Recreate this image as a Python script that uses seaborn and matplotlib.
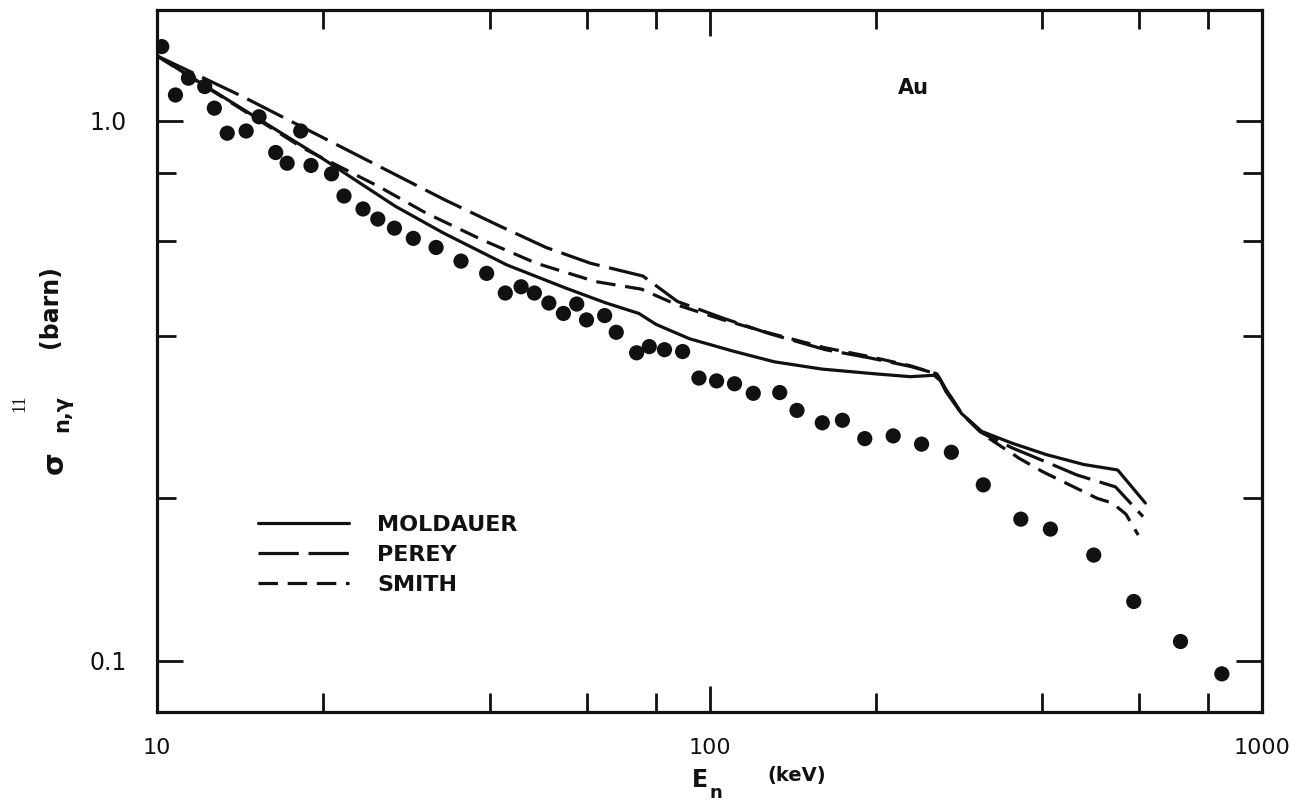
import matplotlib
matplotlib.use("Agg")
import matplotlib.pyplot as plt
import seaborn as sns
from matplotlib.ticker import FixedLocator, FixedFormatter, NullFormatter

# Measured capture cross-section of gold (barn) vs neutron energy (keV)
energy_meas = [10.2, 10.8, 11.4, 12.2, 12.7, 13.4, 14.5, 15.3, 16.4, 17.2,
               18.2, 19.0, 20.7, 21.8, 23.6, 25.1, 26.9, 29.1, 32.0, 35.5,
               39.5, 42.7, 45.6, 48.2, 51.2, 54.4, 57.5, 59.9, 64.6, 67.8,
               73.8, 77.8, 82.9, 89.4, 95.7, 103, 111, 120, 134, 144,
               160, 174, 191, 215, 242, 274, 313, 366, 414, 496,
               586, 712, 846]
sigma_meas = [1.373, 1.117, 1.20, 1.158, 1.056, 0.949, 0.958, 1.018, 0.874, 0.835,
              0.958, 0.827, 0.798, 0.726, 0.687, 0.658, 0.633, 0.606, 0.583, 0.550,
              0.522, 0.480, 0.493, 0.480, 0.460, 0.440, 0.458, 0.428, 0.436, 0.406,
              0.372, 0.382, 0.377, 0.374, 0.334, 0.330, 0.326, 0.313, 0.314, 0.291,
              0.276, 0.279, 0.258, 0.261, 0.252, 0.2434, 0.2118, 0.183, 0.1754, 0.157,
              0.1288, 0.1086, 0.0946]

# Calculated curves
moldauer_e = [10, 15, 20, 27, 33, 43, 55, 65, 74.5, 80, 92, 110, 131, 160, 200,
              231, 255, 262, 268, 286, 311, 353, 407, 476, 548, 615]
moldauer_s = [1.32, 1.02, 0.85, 0.695, 0.62, 0.541, 0.49, 0.46, 0.44, 0.42, 0.395,
              0.375, 0.358, 0.347, 0.34, 0.336, 0.338, 0.33, 0.315, 0.287, 0.266,
              0.253, 0.241, 0.231, 0.2257, 0.196]

perey_e = [10, 14.3, 22.4, 33.2, 42.1, 50.6, 60.9, 75.8, 87.5, 106, 128, 162,
           195, 231, 258, 266, 286, 312, 353, 413, 462, 543, 609]
perey_s = [1.32, 1.109, 0.877, 0.714, 0.636, 0.583, 0.545, 0.516, 0.463, 0.431,
           0.404, 0.377, 0.364, 0.351, 0.340, 0.322, 0.287, 0.264, 0.248, 0.232,
           0.221, 0.210, 0.185]

smith_e = [10, 18.4, 25.2, 30.7, 38.8, 48.6, 62.2, 75.3, 87.5, 106, 128, 162,
           195, 231, 258, 266, 286, 312, 364, 401, 503, 536, 567, 597]
smith_s = [1.32, 0.89, 0.756, 0.675, 0.602, 0.545, 0.504, 0.488, 0.456, 0.428,
           0.405, 0.38, 0.366, 0.352, 0.340, 0.322, 0.287, 0.263, 0.237, 0.224,
           0.200, 0.196, 0.187, 0.171]

x_major = [10, 100, 1000]
x_major_labels = ["10", "100", "1000"]
x_minor = [20, 40, 60, 80, 200, 400, 600, 800]
y_major = [0.1, 1.0]
y_major_labels = ["0.1", "1.0"]
y_minor = [0.2, 0.4, 0.6, 0.8]

sns.set_style("ticks")
plt.rcParams["font.family"] = ["DejaVu Sans"]
plt.rcParams["lines.scale_dashes"] = False

W, H = 1302, 800
fig = plt.figure(figsize=(W / 100, H / 100), dpi=100)
ax = fig.add_axes([157 / W, 1 - 712 / H, (1262 - 157) / W, (712 - 10) / H])

ink = "#111111"
sns.lineplot(x=moldauer_e, y=moldauer_s, sort=False, estimator=None, ax=ax,
             color=ink, lw=2.3, label="MOLDAUER")
sns.lineplot(x=perey_e, y=perey_s, sort=False, estimator=None, ax=ax,
             color=ink, lw=2.3, ls=(0, (29, 7)), label="PEREY")
sns.lineplot(x=smith_e, y=smith_s, sort=False, estimator=None, ax=ax,
             color=ink, lw=2.3, ls=(0, (14, 7)), label="SMITH")
sns.scatterplot(x=energy_meas, y=sigma_meas, ax=ax, s=120, color=ink,
                edgecolor="none", zorder=3, legend=False)

ax.set_xscale("log")
ax.set_yscale("log")
ax.set_xlim(10, 1000)
ax.set_ylim(0.0804, 1.605)

ax.xaxis.set_major_locator(FixedLocator(x_major))
ax.xaxis.set_major_formatter(FixedFormatter(x_major_labels))
ax.xaxis.set_minor_locator(FixedLocator(x_minor))
ax.xaxis.set_minor_formatter(NullFormatter())
ax.yaxis.set_major_locator(FixedLocator(y_major))
ax.yaxis.set_major_formatter(FixedFormatter(y_major_labels))
ax.yaxis.set_minor_locator(FixedLocator(y_minor))
ax.yaxis.set_minor_formatter(NullFormatter())

ax.tick_params(which="both", direction="in", top=True, right=True,
               width=2, color=ink, labelcolor=ink)
ax.tick_params(which="major", length=19)
ax.tick_params(which="minor", length=14)
ax.tick_params(axis="x", which="major", pad=19, labelsize=16)
ax.tick_params(axis="y", which="major", pad=22, labelsize=17)
for sp in ax.spines.values():
    sp.set_linewidth(2.3)
    sp.set_color(ink)

ax.set_xlabel("")
ax.set_ylabel("")

leg = ax.legend(loc="center left", bbox_to_anchor=(258 / W, 1 - 555 / H),
                bbox_transform=fig.transFigure, frameon=False,
                borderpad=0, borderaxespad=0, handlelength=4.1,
                handletextpad=1.25, labelspacing=0.45,
                prop={"size": 16, "weight": "bold"})
for t in leg.get_texts():
    t.set_color(ink)

# Element label
fig.text(913 / W, 1 - 88 / H, "Au", fontsize=15, fontweight="bold",
         ha="center", va="center", color=ink)

# Axis titles
fig.text(700 / W, 1 - 780 / H, "E", fontsize=17, fontweight="bold",
         ha="center", va="center", color=ink)
fig.text(716 / W, 1 - 793 / H, "n", fontsize=13, fontweight="bold",
         ha="center", va="center", color=ink)
fig.text(797 / W, 1 - 775 / H, "(keV)", fontsize=14, fontweight="bold",
         ha="center", va="center", color=ink)

fig.text(55 / W, 1 - 463 / H, "σ", fontsize=21, fontweight="bold",
         rotation=90, ha="center", va="center", color=ink)
fig.text(62 / W, 1 - 414 / H, "n,γ", fontsize=15, fontweight="bold",
         rotation=90, ha="center", va="center", color=ink)
fig.text(50 / W, 1 - 307 / H, "(barn)", fontsize=17, fontweight="bold",
         rotation=90, ha="center", va="center", color=ink)
fig.text(20 / W, 1 - 403 / H, "11", fontsize=13, family="Liberation Serif",
         rotation=90, ha="center", va="center", color=ink)

fig.savefig("out.png", dpi=100)
